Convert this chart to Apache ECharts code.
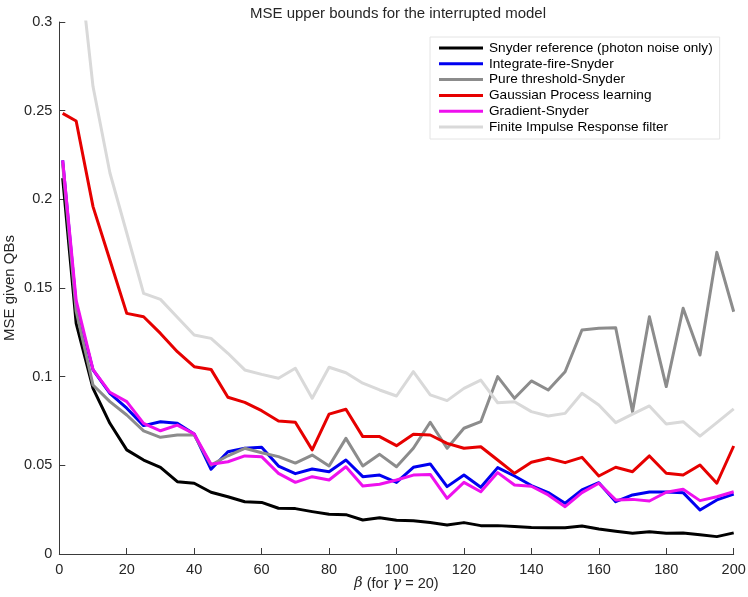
<!DOCTYPE html>
<html>
<head>
<meta charset="utf-8">
<script src="https://cdn.jsdelivr.net/npm/echarts@6/dist/echarts.min.js"></script>
<style>
html,body{margin:0;padding:0;background:#fff;}
#chart{width:748px;height:597px;}
</style>
</head>
<body>
<div id="chart"></div>
<script>
const betaValues = [1,5,10,15,20,25,30,35,40,45,50,55,60,65,70,75,80,85,90,95,100,105,110,115,120,125,130,135,140,145,150,155,160,165,170,175,180,185,190,195,200];

const snyderRef = [0.212,0.130,0.0934,0.0737,0.0587,0.053,0.0489,0.0408,0.0399,0.0348,0.0323,0.0295,0.0291,0.0258,0.0256,0.0239,0.0224,0.0222,0.0192,0.0205,0.0190,0.0188,0.0177,0.0164,0.0177,0.0160,0.0160,0.0155,0.0150,0.0148,0.0148,0.0158,0.0141,0.0128,0.0117,0.0126,0.0117,0.0119,0.0109,0.0098,0.0119];
const integrateFire = [0.222,0.140,0.1038,0.0906,0.0822,0.0724,0.0746,0.0737,0.0677,0.0478,0.0577,0.0596,0.0602,0.0496,0.0453,0.0479,0.0464,0.053,0.0436,0.0445,0.0404,0.0489,0.0508,0.038,0.0445,0.0376,0.0487,0.044,0.0386,0.0346,0.0286,0.0361,0.0402,0.0295,0.0333,0.035,0.035,0.0346,0.0248,0.0305,0.0338];
const pureThreshold = [0.220,0.137,0.0953,0.0859,0.0784,0.0694,0.0658,0.0671,0.0671,0.0502,0.0554,0.0596,0.0571,0.0549,0.0513,0.0558,0.0496,0.0652,0.0496,0.0562,0.0492,0.0596,0.0743,0.0596,0.0709,0.0746,0.1,0.0878,0.0976,0.0925,0.1028,0.1263,0.1273,0.1276,0.0803,0.1338,0.0944,0.1386,0.1122,0.1701,0.1366];
const gaussianProcess = [0.2485,0.2442,0.1959,0.1658,0.1357,0.1338,0.1244,0.1141,0.1056,0.1041,0.0884,0.0855,0.0808,0.075,0.0743,0.0587,0.0789,0.0816,0.0662,0.0662,0.0611,0.0675,0.0671,0.0624,0.0596,0.0605,0.053,0.0455,0.0517,0.054,0.0515,0.0545,0.044,0.0489,0.0464,0.0553,0.0455,0.0445,0.0502,0.0399,0.0609];
const gradientSnyder = [0.222,0.143,0.104,0.0912,0.0859,0.0737,0.0695,0.0727,0.0677,0.0506,0.052,0.0553,0.0549,0.0455,0.0404,0.0436,0.0417,0.0492,0.0383,0.0393,0.0417,0.0445,0.0449,0.0314,0.0404,0.0351,0.0459,0.0389,0.0382,0.0333,0.0267,0.0346,0.0399,0.0305,0.0308,0.0299,0.0348,0.0365,0.0301,0.0323,0.0351];
const firFilter = [0.45,0.35,0.2636,0.215,0.181,0.147,0.1436,0.1335,0.1235,0.1216,0.1132,0.1038,0.1013,0.0991,0.1047,0.0878,0.1053,0.1022,0.0963,0.0925,0.0891,0.1028,0.0897,0.0865,0.0934,0.0981,0.0853,0.0859,0.0803,0.0778,0.0793,0.0906,0.084,0.0741,0.0789,0.0835,0.0733,0.0746,0.0665,0.0741,0.0818];

const seriesNames = ['Snyder reference (photon noise only)','Integrate-fire-Snyder','Pure threshold-Snyder','Gaussian Process learning','Gradient-Snyder','Finite Impulse Response filter'];
const seriesData = [snyderRef, integrateFire, pureThreshold, gaussianProcess, gradientSnyder, firFilter];
const seriesColors = ['#000000','#0000f0','#8c8c8c','#e60000','#ee10ee','#d9d9d9'];

const FONT = '"Liberation Sans", Arial, Helvetica, sans-serif';
const TXT = '#262626';

const chart = echarts.init(document.getElementById('chart'), null, {renderer:'canvas'});
chart.setOption({
  animation: false,
  backgroundColor: '#ffffff',
  title: {
    text: 'MSE upper bounds for the interrupted model',
    left: 393, top: 1, textAlign: 'center',
    textStyle: {fontFamily: FONT, fontSize: 15, fontWeight: 'normal', color: TXT}
  },
  legend: {
    orient: 'vertical',
    left: 430, top: 37,
    padding: [4, 7, 5, 9],
    itemGap: 1.8,
    itemWidth: 44, itemHeight: 3,
    icon: 'rect',
    selectedMode: false,
    borderColor: '#e4e4e4', borderWidth: 1,
    backgroundColor: '#ffffff',
    textStyle: {fontFamily: FONT, fontSize: 13.6, color: '#000', lineHeight: 14, padding: [0,0,0,1]},
    data: seriesNames
  },
  grid: {left: 59.3, right: 14.3, top: 22, bottom: 43, containLabel: false, outerBoundsMode: 'none'},
  xAxis: {
    type: 'value', min: 0, max: 200, interval: 20,
    name: '{g|β} (for {g|γ} = 20)', nameLocation: 'middle', nameGap: 22, nameMoveOverlap: false,
    nameTextStyle: {fontFamily: FONT, fontSize: 14.5, color: TXT,
      rich: {g: {fontFamily: '"DejaVu Serif", "Liberation Serif", serif', fontStyle: 'italic', fontSize: 14.5, color: TXT}}},
    axisLine: {show: true, lineStyle: {color: '#3a3a3a', width: 1}},
    axisTick: {show: true, inside: true, length: 6, lineStyle: {color: '#3a3a3a'}},
    axisLabel: {fontFamily: FONT, fontSize: 14.5, color: TXT, margin: 8},
    splitLine: {show: false}
  },
  yAxis: {
    type: 'value', min: 0, max: 0.3, interval: 0.05,
    name: 'MSE given QBs', nameLocation: 'middle', nameGap: 42, nameMoveOverlap: false,
    nameTextStyle: {fontFamily: FONT, fontSize: 15, color: TXT},
    axisLine: {show: true, lineStyle: {color: '#3a3a3a', width: 1}},
    axisTick: {show: true, inside: true, length: 6, lineStyle: {color: '#3a3a3a'}},
    axisLabel: {fontFamily: FONT, fontSize: 14.5, color: TXT, margin: 7},
    splitLine: {show: false}
  },
  series: seriesNames.map((name, i) => ({
    name: name,
    type: 'line',
    data: betaValues.map((b, j) => [b, seriesData[i][j]]),
    showSymbol: false,
    symbol: 'none',
    clip: true,
    lineStyle: {color: seriesColors[i], width: 3, join: 'round'},
    itemStyle: {color: seriesColors[i]},
    emphasis: {disabled: true}
  }))
});
</script>
</body>
</html>
